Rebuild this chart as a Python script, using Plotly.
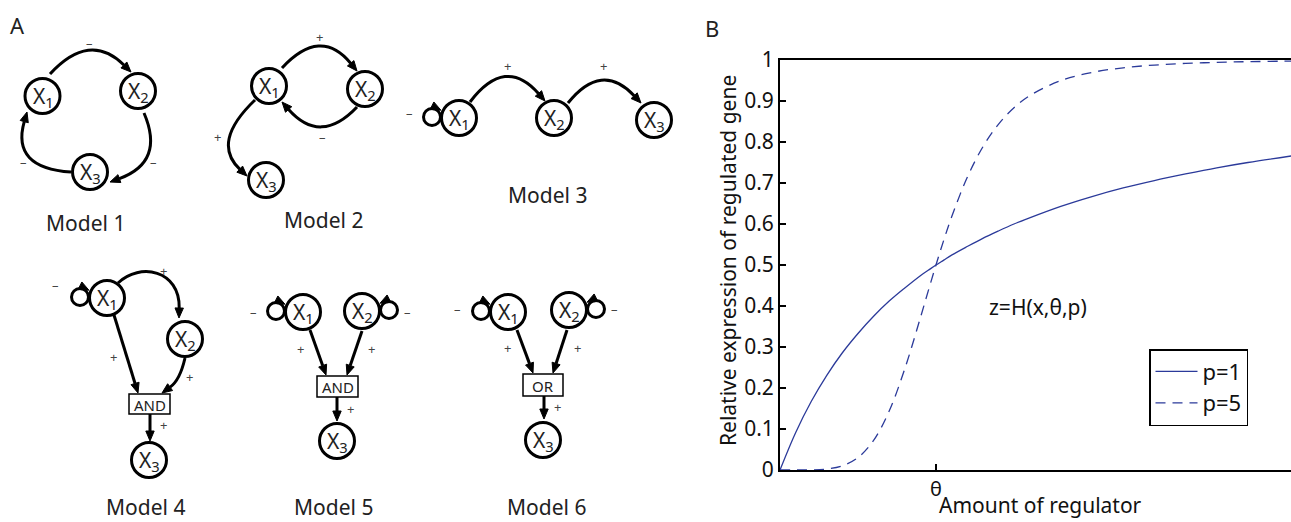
import math
import plotly.graph_objects as go

FONT = "Noto Sans"

# ---------------- Panel B data ----------------
reg_amount = [0, 0.1, 0.2, 0.3, 0.4, 0.5, 0.6, 0.7, 0.8, 0.9, 0.95, 1.0, 1.05, 1.1,
              1.2, 1.3, 1.4, 1.5, 1.6, 1.8, 2.0, 2.2, 2.4, 2.6, 2.8, 3.0, 3.28]
expr_p1 = [0, 0.091, 0.167, 0.231, 0.286, 0.333, 0.375, 0.412, 0.444, 0.474, 0.487, 0.5,
           0.512, 0.524, 0.545, 0.565, 0.583, 0.6, 0.615, 0.643, 0.667, 0.688, 0.706,
           0.722, 0.737, 0.75, 0.766]
expr_p5 = [0, 0.0, 0.0003, 0.0024, 0.0101, 0.0303, 0.0722, 0.1439, 0.2468, 0.3713, 0.4362,
           0.5, 0.5607, 0.6169, 0.7133, 0.7878, 0.8432, 0.8836, 0.9129, 0.9497, 0.9697,
           0.981, 0.9876, 0.9917, 0.9942, 0.9959, 0.9974]
series_names = ["p=1", "p=5"]
y_ticks = [0, 0.1, 0.2, 0.3, 0.4, 0.5, 0.6, 0.7, 0.8, 0.9, 1]
x_tick_vals = [1]
x_tick_text = ["θ"]

# ---------------- Panel A data (network models, pixel layout) ----------------
node_names = ["X<sub>1</sub>", "X<sub>2</sub>", "X<sub>3</sub>"]
model_titles = ["Model 1", "Model 2", "Model 3", "Model 4", "Model 5", "Model 6"]
model_title_pos = [(85, 223), (323, 220), (547, 195), (145, 507), (333, 507), (546, 507)]

model_nodes = [
    [(42.5, 96), (138, 91), (90, 172)],
    [(269, 86), (365, 89), (266, 180)],
    [(459, 118), (554, 118), (654, 120)],
    [(107, 298), (185, 339), (149, 460)],
    [(303, 312), (362, 311), (337, 441)],
    [(508, 312), (569, 310), (543, 440)],
]
# edges: (points of the curve, sign, sign position)
model_edges = [
    [([(50, 74), (89.5, 31), (131, 72)], "–", (89, 43)),
     ([(144, 113), (165, 162), (110, 182)], "–", (153, 162)),
     ([(71, 172), (11, 168), (27, 112)], "–", (23, 162))],
    [([(282, 68), (320.5, 26.5), (357, 71)], "+", (319, 37)),
     ([(357, 107), (320.5, 145.5), (282, 102)], "–", (322, 137)),
     ([(255, 100), (211, 142), (247, 176)], "+", (217, 137))],
    [([(470, 102), (505.5, 55.5), (545, 101)], "+", (507, 66)),
     ([(568, 103), (601.5, 61), (641, 103)], "+", (603, 66))],
    [([(118, 283), (140, 262), (180, 270), (179, 318)], "+", (163, 271)),
     ([(114, 315), (138, 393)], "+", (113, 357)),
     ([(185, 358), (180, 380), (162, 393)], "+", (189, 377)),
     ([(150, 414), (150, 441)], "+", (163, 425))],
    [([(310, 330), (326, 375)], "+", (300, 349)),
     ([(362, 331), (347, 375)], "+", (371, 349)),
     ([(337, 397), (337, 421)], "+", (350, 409))],
    [([(517, 330), (533, 373)], "+", (507, 348)),
     ([(567, 330), (553, 373)], "+", (577, 348)),
     ([(544, 396), (544, 419)], "+", (557, 407))],
]
# self loops: (model index, node index, side -1 left / +1 right, sign position)
self_loops = [
    (2, 0, -1, (409, 113)),
    (3, 0, -1, (55, 285)),
    (4, 0, -1, (253, 312)), (4, 1, 1, (407, 312)),
    (5, 0, -1, (457, 309)), (5, 1, 1, (614, 309)),
]
# logic gates: (label, x0, y0, x1, y1)
gates = [("AND", 129, 394, 170, 414), ("AND", 317, 376, 358, 397), ("OR", 523, 374, 563, 396)]

NODE_R = 17.5
LOOP_R = 8.5
HEAD_L = 10
HEAD_W = 4.2
STROKE = 3

fig = go.Figure()

# Panel B curves
fig.add_trace(go.Scatter(x=reg_amount, y=expr_p1, mode="lines", name=series_names[0],
                         line=dict(color="#2b3a9a", width=1.3, shape="spline"),
                         xaxis="x", yaxis="y"))
fig.add_trace(go.Scatter(x=reg_amount, y=expr_p5, mode="lines", name=series_names[1],
                         line=dict(color="#2b3a9a", width=1.3, dash="10px,7px", shape="spline"),
                         xaxis="x", yaxis="y"))
# anchor trace for the drawing canvas of panel A
fig.add_trace(go.Scatter(x=[0], y=[0], mode="markers", marker=dict(opacity=0),
                         showlegend=False, hoverinfo="skip", xaxis="x2", yaxis="y2"))

edge_shapes, node_shapes, head_shapes = [], [], []
annotations = []


def P(x, y):
    return f"{x:.2f},{y:.2f}"


def head(tip, prev):
    dx, dy = tip[0] - prev[0], tip[1] - prev[1]
    n = math.hypot(dx, dy)
    dx, dy = dx / n, dy / n
    bx, by = tip[0] - HEAD_L * dx, tip[1] - HEAD_L * dy
    px, py = -dy, dx
    path = (f"M {P(*tip)} L {P(bx + HEAD_W * px, by + HEAD_W * py)} "
            f"L {P(bx - HEAD_W * px, by - HEAD_W * py)} Z")
    head_shapes.append(dict(type="path", path=path, xref="x2", yref="y2",
                            fillcolor="black", line=dict(color="black", width=1)))
    return (bx, by)


def sign_ann(txt, pos):
    annotations.append(dict(x=pos[0], y=pos[1], xref="x2", yref="y2", text=txt,
                            showarrow=False, font=dict(family=FONT, size=13, color="#444")))


for mi, edges in enumerate(model_edges):
    for pts, sign, spos in edges:
        base = head(pts[-1], pts[-2])
        q = pts[:-1] + [base]
        if len(q) == 2:
            path = f"M {P(*q[0])} L {P(*q[1])}"
        elif len(q) == 3:
            path = f"M {P(*q[0])} Q {P(*q[1])} {P(*q[2])}"
        else:
            path = f"M {P(*q[0])} C {P(*q[1])} {P(*q[2])} {P(*q[3])}"
        edge_shapes.append(dict(type="path", path=path, xref="x2", yref="y2",
                                line=dict(color="black", width=STROKE)))
        sign_ann(sign, spos)

for mi, ni, side, spos in self_loops:
    cx, cy = model_nodes[mi][ni]
    lx, ly = cx + side * (NODE_R + LOOP_R + 1), cy - 1
    edge_shapes.append(dict(type="circle", xref="x2", yref="y2",
                            x0=lx - LOOP_R, x1=lx + LOOP_R, y0=ly - LOOP_R, y1=ly + LOOP_R,
                            line=dict(color="black", width=STROKE)))
    tip = (lx - side * LOOP_R * 1.05, ly - LOOP_R * 0.8)
    prev = (tip[0] + side * 1.0, tip[1] - 0.5)
    head(tip, prev)
    sign_ann("–", spos)

for mi, nodes in enumerate(model_nodes):
    for ni, (cx, cy) in enumerate(nodes):
        node_shapes.append(dict(type="circle", xref="x2", yref="y2",
                                x0=cx - NODE_R, x1=cx + NODE_R, y0=cy - NODE_R, y1=cy + NODE_R,
                                fillcolor="white", line=dict(color="black", width=STROKE)))
        annotations.append(dict(x=cx + 0.5, y=cy + 1, xref="x2", yref="y2", text=node_names[ni],
                                showarrow=False, font=dict(family=FONT, size=21, color="#222")))
    annotations.append(dict(x=model_title_pos[mi][0], y=model_title_pos[mi][1], xref="x2", yref="y2",
                            text=model_titles[mi], showarrow=False,
                            font=dict(family=FONT, size=21, color="#222")))

for label, x0, y0, x1, y1 in gates:
    node_shapes.append(dict(type="rect", xref="x2", yref="y2", x0=x0, x1=x1, y0=y0, y1=y1,
                            fillcolor="white", line=dict(color="black", width=1.5)))
    annotations.append(dict(x=(x0 + x1) / 2, y=(y0 + y1) / 2 + 0.5, xref="x2", yref="y2", text=label,
                            showarrow=False, font=dict(family=FONT, size=15, color="#222")))

# Panel letters, titles and formula text
annotations += [
    dict(x=17, y=25, text="A", font=dict(family=FONT, size=22, color="#222")),
    dict(x=712, y=28, text="B", font=dict(family=FONT, size=22, color="#222")),
    dict(x=728, y=261, text="Relative expression of regulated gene", textangle=-90,
         font=dict(family=FONT, size=21, color="#111")),
    dict(x=1040, y=505, text="Amount of regulator", font=dict(family=FONT, size=21, color="#111")),
    dict(x=1038, y=307, text="z=H(x,θ,p)", font=dict(family=FONT, size=21, color="#111")),
]
for a in annotations[-5:]:
    a.update(xref="x2", yref="y2", showarrow=False)

W, H = 1291, 522
fig.update_layout(
    template="none",
    width=W, height=H, autosize=False,
    margin=dict(l=0, r=0, t=0, b=0, pad=0, autoexpand=False),
    paper_bgcolor="white", plot_bgcolor="rgba(0,0,0,0)",
    font=dict(family=FONT, size=20, color="#111"),
    shapes=edge_shapes + node_shapes + head_shapes,
    annotations=annotations,
    showlegend=True,
    legend=dict(x=1149 / W, y=1 - 349 / H, xanchor="left", yanchor="top",
                bgcolor="white", bordercolor="black", borderwidth=1.5,
                font=dict(family=FONT, size=22, color="#111"),
                itemwidth=42, tracegroupgap=0),
    xaxis=dict(domain=[780 / W, 1.0], range=[0, 3.276], anchor="y", automargin=False,
               showline=True, linecolor="black", linewidth=2, mirror=True,
               ticks="inside", ticklen=6, tickwidth=1.5, tickcolor="black",
               tickvals=x_tick_vals, ticktext=x_tick_text,
               tickfont=dict(family=FONT, size=20, color="#111"),
               showgrid=False, zeroline=False, fixedrange=True),
    yaxis=dict(domain=[1 - 470 / H, 1 - 60 / H], range=[0, 1], anchor="x", automargin=False,
               showline=True, linecolor="black", linewidth=2, mirror=False,
               ticks="inside", ticklen=6, tickwidth=1.5, tickcolor="black",
               tickvals=y_ticks, ticktext=[f"{v:g}" for v in y_ticks],
               tickfont=dict(family=FONT, size=21, color="#111"),
               showgrid=False, zeroline=False, fixedrange=True),
    xaxis2=dict(domain=[0, 1], range=[0, W], anchor="y2", visible=False, fixedrange=True,
                automargin=False),
    yaxis2=dict(domain=[0, 1], range=[H, 0], anchor="x2", visible=False, fixedrange=True,
                automargin=False),
)

fig.write_html("out.html", config=dict(displayModeBar=False),
               post_script="document.body.style.margin='0';document.body.style.overflow='hidden';")
